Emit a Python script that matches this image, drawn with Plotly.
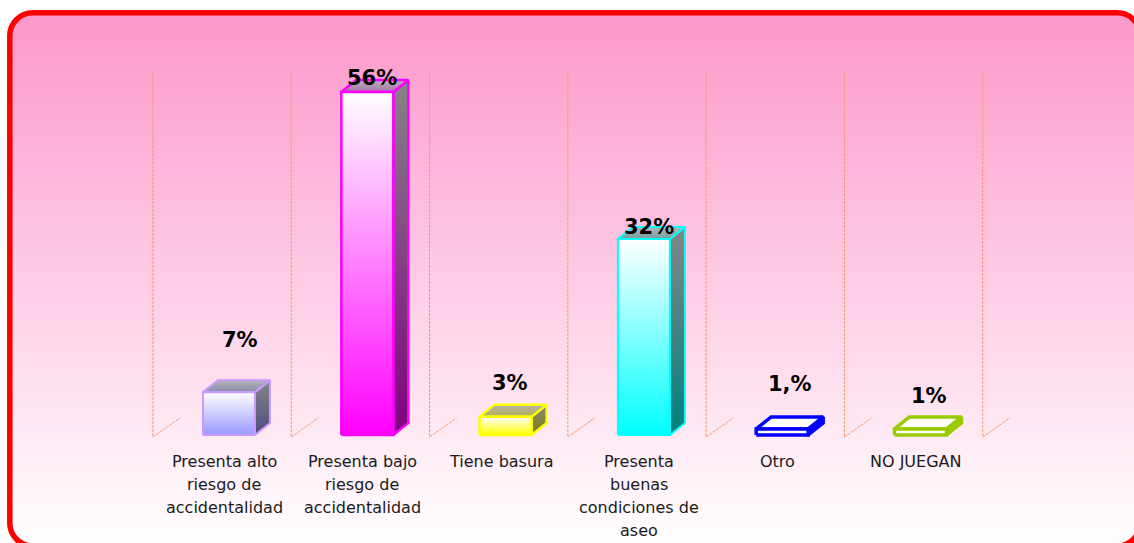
import base64
import plotly.graph_objects as go

# ---------------- data ----------------
categories = [
    "Presenta alto<br>riesgo de<br>accidentalidad",
    "Presenta bajo<br>riesgo de<br>accidentalidad",
    "Tiene basura",
    "Presenta<br>buenas<br>condiciones de<br>aseo",
    "Otro",
    "NO JUEGAN",
]
values = [7, 56, 3, 32, 1, 1]
value_labels = ["7%", "56%", "3%", "32%", "1,%", "1%"]

# ---------------- style ----------------
border_colors = ["#CC99FF", "#FF00FF", "#FFFF00", "#00FFFF", "#0000FF", "#99CC00"]
front_colors = ["#9999FF", "#FF00FF", "#FFFF00", "#00FFFF", "#FFFFFF", "#FFFFFF"]
side_colors = ["#4D4D80", "#800080", "#808000", "#008080", "#0000FF", "#99CC00"]
side_top_colors = ["#858585", "#858585", "#858585", "#858585", "#0000FF", "#99CC00"]
top_colors = ["#8C8CB0", "#B070B0", "#B0B050", "#70A0A0", "#FFFFFF", "#FFFFFF"]
top_back_colors = ["#B4B4B4", "#B4B4B4", "#B4B4B4", "#B4B4B4", "#FFFFFF", "#FFFFFF"]
border_widths = [2, 2.5, 2.5, 2, 3.5, 3.5]
label_dy_px = [52, 14, 34, 12, 45, 33]
label_dx_px = [11, 5, 4, 5, 8, 8]

W, H = 1134, 543
ZERO_PX = 435.0
PX_PER_UNIT = 6.125
X0_PX = 229.0
PX_PER_CAT = 138.3
BAR_W = 52 / PX_PER_CAT
DX = 15 / PX_PER_CAT
DY = 12 / PX_PER_UNIT
GRID_TOP = 59.1
GRID_BOT = -0.33

fig = go.Figure()

# gridlines (back-wall verticals + floor diagonals)
gx, gy = [], []
for k in range(len(categories) + 1):
    x = k - 0.55
    gx += [x, x, None, x, x + 27 / PX_PER_CAT, None]
    gy += [GRID_TOP, GRID_BOT, None, GRID_BOT, GRID_BOT + 19 / PX_PER_UNIT, None]
fig.add_trace(go.Scatter(x=gx, y=gy, mode="lines",
                         line=dict(color="#F59A6E", width=1, dash="3px,1px"),
                         hoverinfo="skip", showlegend=False))


def face(xs, ys, c_bot, c_top, lc, lw):
    fig.add_trace(go.Scatter(
        x=xs + [xs[0]], y=ys + [ys[0]], mode="lines", fill="toself",
        fillgradient=dict(type="vertical", colorscale=[[0, c_bot], [1, c_top]]),
        line=dict(color=lc, width=lw), hoverinfo="skip", showlegend=False))


for i, v in enumerate(values):
    x0 = i - BAR_W / 2
    x1 = i + BAR_W / 2
    lc = border_colors[i]
    lw = border_widths[i]
    # side face
    face([x1, x1 + DX, x1 + DX, x1], [0, DY, v + DY, v],
         side_colors[i], side_top_colors[i], lc, lw)
    # top face
    face([x0, x1, x1 + DX, x0 + DX], [v, v, v + DY, v + DY],
         top_colors[i], top_back_colors[i], lc, lw)
    # front face
    face([x0, x1, x1, x0], [0, 0, v, v], front_colors[i], "#FFFFFF", lc, lw)

annotations = []
for i, v in enumerate(values):
    annotations.append(dict(
        x=i, y=v, xref="x", yref="y", text=value_labels[i], showarrow=False,
        xshift=label_dx_px[i], yshift=label_dy_px[i], yanchor="middle",
        font=dict(family="DejaVu Sans", size=21, color="#000000", weight="bold")))
    for k, line in enumerate(categories[i].split("<br>")):
        annotations.append(dict(
            x=i, y=0, xref="x", yref="y", text=line, showarrow=False,
            xshift=-5, yshift=-(26 + 23.3 * k), yanchor="middle",
            font=dict(family="DejaVu Sans", size=16, color="#1A1A1A")))

svg = f'''<svg xmlns="http://www.w3.org/2000/svg" width="{W}" height="{H}" viewBox="0 0 {W} {H}">
<defs><linearGradient id="g" x1="0" y1="0" x2="0" y2="1">
<stop offset="0" stop-color="#FD98CA"/><stop offset="1" stop-color="#FFFFFF"/></linearGradient></defs>
<rect x="9.8" y="12.8" width="1130.4" height="533.2" rx="23" ry="23" fill="url(#g)" stroke="#FF0000" stroke-width="5.5"/>
</svg>'''
src = "data:image/svg+xml;base64," + base64.b64encode(svg.encode()).decode()

fig.update_layout(
    width=W, height=H,
    margin=dict(l=0, r=0, t=0, b=0, pad=0),
    paper_bgcolor="#FFFFFF", plot_bgcolor="rgba(0,0,0,0)",
    xaxis=dict(range=[-X0_PX / PX_PER_CAT, (W - X0_PX) / PX_PER_CAT], visible=False, fixedrange=True),
    yaxis=dict(range=[-(H - ZERO_PX) / PX_PER_UNIT, ZERO_PX / PX_PER_UNIT], visible=False, fixedrange=True),
    images=[dict(source=src, xref="paper", yref="paper", x=0, y=1, sizex=1, sizey=1,
                 xanchor="left", yanchor="top", sizing="stretch", layer="below")],
    annotations=annotations,
    showlegend=False,
)

fig.write_html("out.html", config={"displayModeBar": False},
               post_script="document.body.style.margin='0';")
